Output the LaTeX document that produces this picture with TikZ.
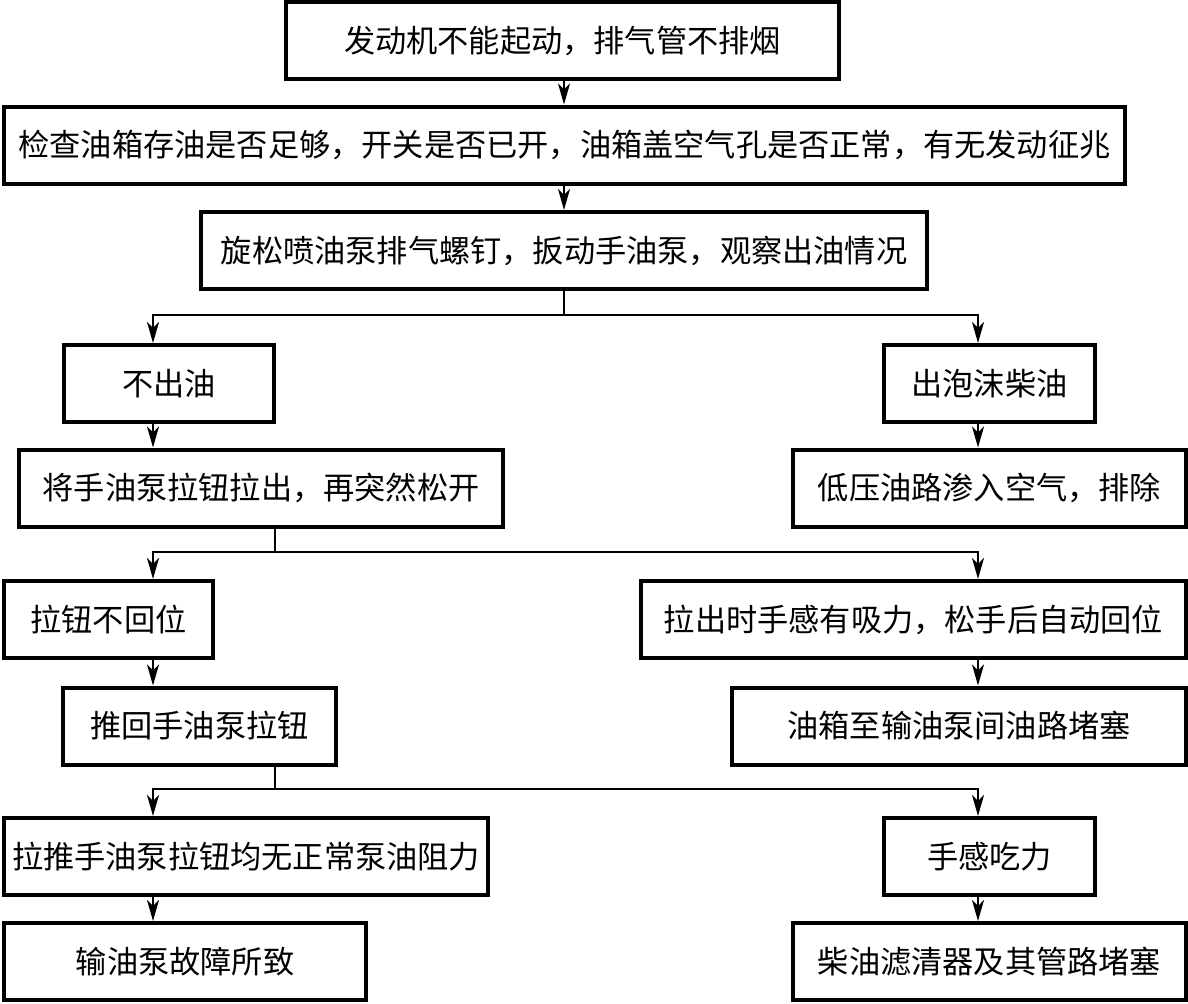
\documentclass[tikz,border=0pt]{standalone}
\usepackage{fontspec}
\setmainfont{Noto Sans CJK SC}
\usetikzlibrary{arrows.meta}

\begin{document}
\begin{tikzpicture}[x=0.5pt,y=-0.5pt]
\tikzstyle{box}=[draw,line width=2pt,minimum height=38.5pt,inner sep=0pt,font=\fontsize{15.6}{18}\selectfont]
\tikzstyle{link}=[line width=1pt]
\tikzstyle{arr}=[link,-{Stealth[length=10.5pt,width=6pt,inset=3pt]}]
\useasboundingbox (0,0) rectangle (1188,1003);

% columns of the two branches
\coordinate (lcol) at (153,0);
\coordinate (rcol) at (978,0);

\node[box,minimum width=276.5pt] (start) at (562.5,40.5) {发动机不能起动，排气管不排烟};
\node[box,minimum width=560.5pt] (check) at (564.5,145) {检查油箱存油是否足够，开关是否已开，油箱盖空气孔是否正常，有无发动征兆};
\node[box,minimum width=363pt] (loosen) at (564,250.5) {旋松喷油泵排气螺钉，扳动手油泵，观察出油情况};

\node[box,minimum width=105pt] (nooil) at (169,383.5) {不出油};
\node[box,minimum width=105.5pt] (foam) at (989.5,383.5) {出泡沫柴油};
\node[box,minimum width=242pt] (pull) at (261,488) {将手油泵拉钮拉出，再突然松开};
\node[box,minimum width=196.5pt] (air) at (989.5,488) {低压油路渗入空气，排除};

\node[box,minimum width=104.5pt] (noreturn) at (108.5,619.5) {拉钮不回位};
\node[box,minimum width=272.5pt] (suction) at (913.5,619.5) {拉出时手感有吸力，松手后自动回位};
\node[box,minimum width=136.5pt] (pushback) at (199.5,726) {推回手油泵拉钮};
\node[box,minimum width=227pt] (blocked) at (959,726) {油箱至输油泵间油路堵塞};

\node[box,minimum width=242pt] (noresist) at (246,856.5) {拉推手油泵拉钮均无正常泵油阻力};
\node[box,minimum width=105.5pt] (heavy) at (989.5,856.5) {手感吃力};
\node[box,minimum width=181pt] (pumpfault) at (185,961.5) {输油泵故障所致};
\node[box,minimum width=196.5pt] (filter) at (989.5,961.5) {柴油滤清器及其管路堵塞};

% split points
\coordinate (split1) at (564,315);
\coordinate (split2) at (275,552);
\coordinate (split3) at (275,789);

\draw[arr] (start.south -| split1) -- (check.north -| split1);
\draw[arr] (check.south -| split1) -- (loosen.north -| split1);

\draw[link] (loosen.south -| split1) -- (split1);
\draw[arr] (split1) -| (lcol |- nooil.north);
\draw[arr] (split1) -| (rcol |- foam.north);
\draw[arr] (lcol |- nooil.south) -- (lcol |- pull.north);
\draw[arr] (rcol |- foam.south) -- (rcol |- air.north);

\draw[link] (pull.south -| split2) -- (split2);
\draw[arr] (split2) -| (lcol |- noreturn.north);
\draw[arr] (split2) -| (rcol |- suction.north);
\draw[arr] (lcol |- noreturn.south) -- (lcol |- pushback.north);
\draw[arr] (rcol |- suction.south) -- (rcol |- blocked.north);

\draw[link] (pushback.south -| split3) -- (split3);
\draw[arr] (split3) -| (lcol |- noresist.north);
\draw[arr] (split3) -| (rcol |- heavy.north);
\draw[arr] (lcol |- noresist.south) -- (lcol |- pumpfault.north);
\draw[arr] (rcol |- heavy.south) -- (rcol |- filter.north);
\end{tikzpicture}
\end{document}
